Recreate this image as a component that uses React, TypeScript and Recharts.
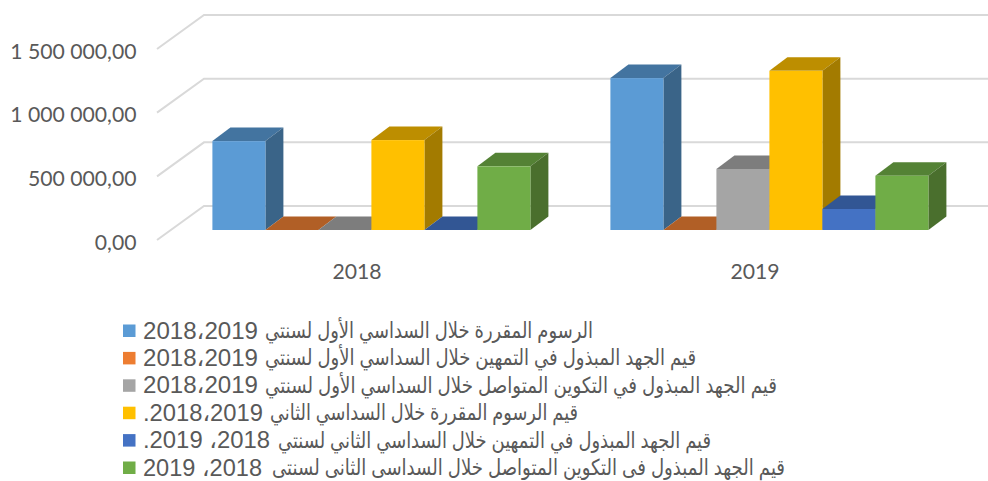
import React from "react";
import { BarChart, Bar, XAxis, YAxis, CartesianGrid, Legend } from "recharts";

const years = ["2018", "2019"];
const s1 = [698000, 1193000];
const s2 = [0, 0];
const s3 = [0, 479000];
const s4 = [706000, 1250000];
const s5 = [0, 165000];
const s6 = [500000, 426000];
const seriesValues = [s1, s2, s3, s4, s5, s6];
const seriesNames = [
  "الرسوم المقررة خلال السداسي الأول لسنتي 2018،2019",
  "قيم الجهد المبذول في التمهين خلال السداسي الأول لسنتي 2018،2019",
  "قيم الجهد المبذول في التكوين المتواصل خلال السداسي الأول لسنتي 2018،2019",
  "قيم الرسوم المقررة خلال السداسي الثاني 2018،2019.",
  "قيم الجهد المبذول في التمهين خلال السداسي الثاني لسنتي 2018، 2019.",
  "قيم الجهد المبذول فى التكوين المتواصل خلال السداسى الثانى لسنتى 2018، 2019",
];
const yTicks = [0, 500000, 1000000, 1500000];
const yTickLabels = ["0,00", "500 000,00", "1 000 000,00", "1 500 000,00"];

const frontColors = ["#5B9BD5", "#ED7D31", "#A5A5A5", "#FFC000", "#4472C4", "#70AD47"];
const topColors = ["#4374A0", "#B15F26", "#7D7D7D", "#BD8E00", "#325694", "#548235"];
const sideColors = ["#3A6488", "#9A5220", "#6C6C6C", "#A37B00", "#2B4A80", "#4A6F2D"];
const legendRight = [593, 696, 777, 578, 711, 785];
const legendWordsLeft = [265, 265, 265, 270, 278, 272];
const legendDigitsRight = [258, 258, 258, 263, 270, 262];

const rows = years.map((year, i) => {
  const row: Record<string, string | number> = { year };
  seriesValues.forEach((values, k) => {
    row["s" + k] = values[i];
  });
  return row;
});

const DX = 18;
const DY = 13.5;
const FRONT_SHIFT = 24;

const makeShape = (k: number) => (props: any) => {
  const { x, y, width, height } = props;
  const top = y + FRONT_SHIFT;
  const bottom = top + height;
  return (
    <g>
      <polygon
        points={`${x},${top} ${x + DX},${top - DY} ${x + width + DX},${top - DY} ${x + width},${top}`}
        fill={topColors[k]}
      />
      {height > 0 && (
        <polygon
          points={`${x + width},${top} ${x + width + DX},${top - DY} ${x + width + DX},${bottom - DY} ${x + width},${bottom}`}
          fill={sideColors[k]}
        />
      )}
      {height > 0 && <rect x={x} y={top} width={width} height={height} fill={frontColors[k]} />}
    </g>
  );
};

const gridLine = (props: any) => {
  const y = props.y1;
  return (
    <g key={props.key ?? y}>
      <polyline
        points={`157,${y + 34} 204,${y} 988,${y}`}
        fill="none"
        stroke="#D9D9D9"
        strokeWidth={2}
      />
    </g>
  );
};

const YTick = (props: any) => {
  const idx = yTicks.indexOf(props.payload.value);
  return (
    <text
      x={136.5}
      y={props.y + 35.5}
      textAnchor="end"
      dominantBaseline="central"
      fontFamily="Lato"
      fontSize={21.2}
      fill="#595959"
    >
      {yTickLabels[idx]}
    </text>
  );
};

const XTick = (props: any) => (
  <text
    x={props.x - 15}
    y={271}
    textAnchor="middle"
    dominantBaseline="central"
    fontFamily="Lato"
    fontSize={21.2}
    fill="#595959"
  >
    {props.payload.value}
  </text>
);

const LegendRows = (props: any) => (
  <div style={{ position: "absolute", left: 0, top: 0, width: 0, height: 0 }}>
    <svg width={988} height={481} style={{ position: "absolute", left: 0, top: 0, overflow: "visible" }}>
      {(props.payload ?? []).map((item: any, i: number) => {
        const cy = 330.5 + i * 27.4;
        const match = String(item.value).match(/^(.*?)\s*([\d،. ]+)$/);
        const words = match ? match[1] : String(item.value);
        const digits = match ? match[2] : "";
        return (
          <g key={i}>
            <rect x={123} y={cy - 6} width={12.5} height={12.5} fill={item.color} />
            <text
              x={legendDigitsRight[i]}
              y={cy}
              direction="rtl"
              textAnchor="start"
              dominantBaseline="central"
              fontFamily="'Liberation Sans', 'DejaVu Sans', sans-serif"
              fontSize={23.5}
              fill="#595959"
              textLength={legendDigitsRight[i] - 143}
              lengthAdjust="spacingAndGlyphs"
            >
              {digits}
            </text>
            <text
              x={legendRight[i]}
              y={cy}
              direction="rtl"
              textAnchor="start"
              dominantBaseline="central"
              fontFamily="'Liberation Sans', 'DejaVu Sans', sans-serif"
              fontSize={22}
              fill="#595959"
              textLength={legendRight[i] - legendWordsLeft[i]}
              lengthAdjust="spacingAndGlyphs"
            >
              {words}
            </text>
          </g>
        );
      })}
    </svg>
  </div>
);

export default function App() {
  return (
    <div style={{ position: "absolute", left: 0, top: 0, width: 988, height: 481 }}>
      <BarChart
        width={988}
        height={481}
        data={rows}
        margin={{ top: 15, right: 19, bottom: 245, left: 0 }}
        barGap={0}
        barCategoryGap="9.9%"
      >
        <CartesianGrid vertical={false} horizontal={gridLine} />
        <XAxis
          dataKey="year"
          axisLine={false}
          tickLine={false}
          height={30}
          tick={XTick}
          interval={0}
        />
        <YAxis
          width={173}
          domain={[0, 1500000]}
          ticks={yTicks}
          axisLine={false}
          tickLine={false}
          tick={YTick}
          interval={0}
        />
        <Legend content={LegendRows} itemSorter={null} wrapperStyle={{ left: 0, top: 0, width: 0, height: 0 }} />
        {seriesNames.map((name, k) => (
          <Bar
            key={name}
            dataKey={"s" + k}
            name={name}
            fill={frontColors[k]}
            shape={makeShape(k)}
            isAnimationActive={false}
          />
        ))}
      </BarChart>
    </div>
  );
}
